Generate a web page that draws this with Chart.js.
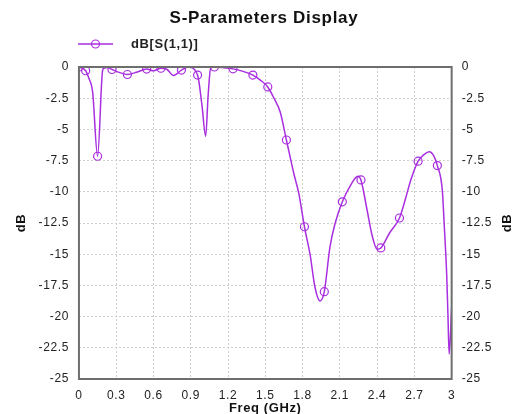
<!DOCTYPE html>
<html>
<head>
<meta charset="utf-8">
<script src="https://cdn.jsdelivr.net/npm/chart.js@4/dist/chart.umd.min.js"></script>
<style>
html,body{margin:0;padding:0;background:#fff;}
#wrap{width:514px;height:414px;position:relative;}
</style>
</head>
<body>
<div id="wrap"><canvas id="c" width="514" height="414"></canvas></div>
<script>
const titleText = "S-Parameters Display";
const seriesLabel = "dB[S(1,1)]";
const xTitle = "Freq (GHz)";
const yTitle = "dB";
const xTicks = [0, 0.3, 0.6, 0.9, 1.2, 1.5, 1.8, 2.1, 2.4, 2.7, 3];
const yTicks = [0, -2.5, -5, -7.5, -10, -12.5, -15, -17.5, -20, -22.5, -25];

const freq = [0, 0.054, 0.08, 0.11, 0.15, 0.19, 0.2, 0.23, 0.266, 0.33, 0.39, 0.47, 0.545, 0.6, 0.66, 0.71, 0.76, 0.825, 0.88, 0.955, 0.99, 1.02, 1.04, 1.06, 1.09, 1.16, 1.24, 1.32, 1.40, 1.46, 1.52, 1.57, 1.62, 1.67, 1.73, 1.77, 1.815, 1.86, 1.90, 1.94, 1.975, 2.02, 2.06, 2.12, 2.185, 2.245, 2.27, 2.32, 2.36, 2.40, 2.43, 2.50, 2.58, 2.63, 2.67, 2.73, 2.78, 2.82, 2.86, 2.885, 2.925, 2.94, 2.96, 2.97, 2.98, 3.0];
const s11dB = [0, -0.3, -0.9, -2.0, -7.15, -0.3, -0.1, -0.05, -0.2, -0.45, -0.6, -0.4, -0.17, -0.3, -0.1, -0.2, -0.68, -0.25, 0.0, -0.65, -3.05, -5.55, -2.25, -0.1, 0, -0.05, -0.15, -0.35, -0.65, -1.05, -1.6, -2.5, -3.6, -5.85, -8.55, -10.15, -12.8, -15.0, -17.65, -18.75, -18.0, -14.45, -12.6, -10.8, -9.5, -8.75, -9.05, -11.5, -13.5, -14.6, -14.5, -13.3, -12.1, -10.5, -9.1, -7.55, -7.0, -6.8, -7.2, -7.9, -9.9, -12.6, -16.6, -19.8, -23.0, -19.3];
const markerFreq = [0, 0.054, 0.15, 0.266, 0.39, 0.545, 0.66, 0.825, 0.955, 1.09, 1.24, 1.40, 1.52, 1.67, 1.815, 1.975, 2.12, 2.27, 2.43, 2.58, 2.73, 2.885];

const lineColor = '#a92ee0';
const font = "'Liberation Sans', Arial, sans-serif";
const spacing = '0.6px';

const points = freq.map((f, i) => ({x: f, y: s11dB[i]}));
const radii = freq.map(f => markerFreq.includes(f) ? 4 : 0);

const spacingPlugin = {
  id: 'spacing',
  beforeUpdate(chart) { chart.ctx.letterSpacing = spacing; },
  beforeLayout(chart) { chart.ctx.letterSpacing = spacing; },
  beforeDraw(chart) { chart.ctx.letterSpacing = spacing; }
};

const framePlugin = {
  id: 'frame',
  afterDatasetsDraw(chart) {
    const {ctx, chartArea: a} = chart;
    ctx.save();
    ctx.strokeStyle = '#6e6e6e';
    ctx.lineWidth = 2;
    ctx.strokeRect(a.left, a.top, a.right - a.left, a.bottom - a.top);
    ctx.restore();
  }
};

const headerPlugin = {
  id: 'header',
  afterDraw(chart) {
    const ctx = chart.ctx;
    const ds = chart.data.datasets[0];
    const a = chart.chartArea;
    ctx.save();
    ctx.letterSpacing = '0.7px';
    ctx.fillStyle = '#111';
    ctx.font = "bold 17px " + font;
    ctx.textAlign = 'center';
    ctx.textBaseline = 'middle';
    ctx.fillText(titleText, 264, 18);
    // right axis title
    ctx.save();
    ctx.letterSpacing = '0.6px';
    ctx.font = "bold 13px " + font;
    ctx.translate(507, (a.top + a.bottom) / 2);
    ctx.rotate(-Math.PI / 2);
    ctx.fillText(yTitle, 0, 0);
    ctx.restore();
    // legend
    const y = 44, x0 = 78, x1 = 113;
    ctx.strokeStyle = ds.borderColor;
    ctx.lineWidth = 1.5;
    ctx.beginPath(); ctx.moveTo(x0, y); ctx.lineTo(x1, y); ctx.stroke();
    ctx.lineWidth = 1.2;
    ctx.beginPath(); ctx.arc((x0 + x1) / 2, y, 4, 0, Math.PI * 2); ctx.stroke();
    ctx.fillStyle = '#222';
    ctx.font = "bold 13px " + font;
    ctx.letterSpacing = '0.6px';
    ctx.textAlign = 'left';
    ctx.fillText(ds.label, 131, y);
    ctx.restore();
  }
};

const tickFont = {family: font, size: 12};
const titleFont = {family: font, size: 13, weight: 'bold'};
const gridCfg = {color: '#cfcfcf', drawTicks: false, lineWidth: 1};
const borderCfg = {display: false, dash: [2, 2]};

new Chart(document.getElementById('c'), {
  type: 'line',
  data: {
    datasets: [{
      label: seriesLabel,
      data: points,
      borderColor: lineColor,
      backgroundColor: 'rgba(0,0,0,0)',
      borderWidth: 1.5,
      pointRadius: radii,
      pointHoverRadius: radii,
      pointBorderWidth: 1.2,
      pointBorderColor: lineColor,
      pointBackgroundColor: 'rgba(0,0,0,0)',
      cubicInterpolationMode: 'monotone',
      fill: false
    }]
  },
  options: {
    responsive: false,
    animation: false,
    layout: {padding: {left: 14, right: 12, top: 67, bottom: -2}},
    plugins: {
      legend: {display: false},
      tooltip: {enabled: false},
      title: {display: false}
    },
    scales: {
      x: {
        type: 'linear', min: 0, max: 3,
        afterBuildTicks: ax => { ax.ticks = xTicks.map(v => ({value: v})); },
        ticks: {font: tickFont, color: '#222', padding: 9, maxRotation: 0,
                callback: v => String(v)},
        grid: gridCfg, border: borderCfg,
        title: {display: true, text: xTitle, color: '#111', font: titleFont, padding: {top: -11, bottom: 0}}
      },
      y: {
        type: 'linear', position: 'left', min: -25, max: 0,
        afterBuildTicks: ax => { ax.ticks = yTicks.map(v => ({value: v})); },
        ticks: {font: tickFont, color: '#222', padding: 10, callback: v => String(v)},
        grid: gridCfg, border: borderCfg,
        title: {display: true, text: yTitle, color: '#111', font: titleFont, padding: {top: 0, bottom: -1}}
      },
      y2: {
        type: 'linear', position: 'right', min: -25, max: 0,
        afterBuildTicks: ax => { ax.ticks = yTicks.map(v => ({value: v})); },
        ticks: {font: tickFont, color: '#222', padding: 10, callback: v => String(v)},
        grid: {display: false, drawTicks: false}, border: {display: false},
        title: {display: false}
      }
    }
  },
  plugins: [spacingPlugin, framePlugin, headerPlugin]
});
</script>
</body>
</html>
